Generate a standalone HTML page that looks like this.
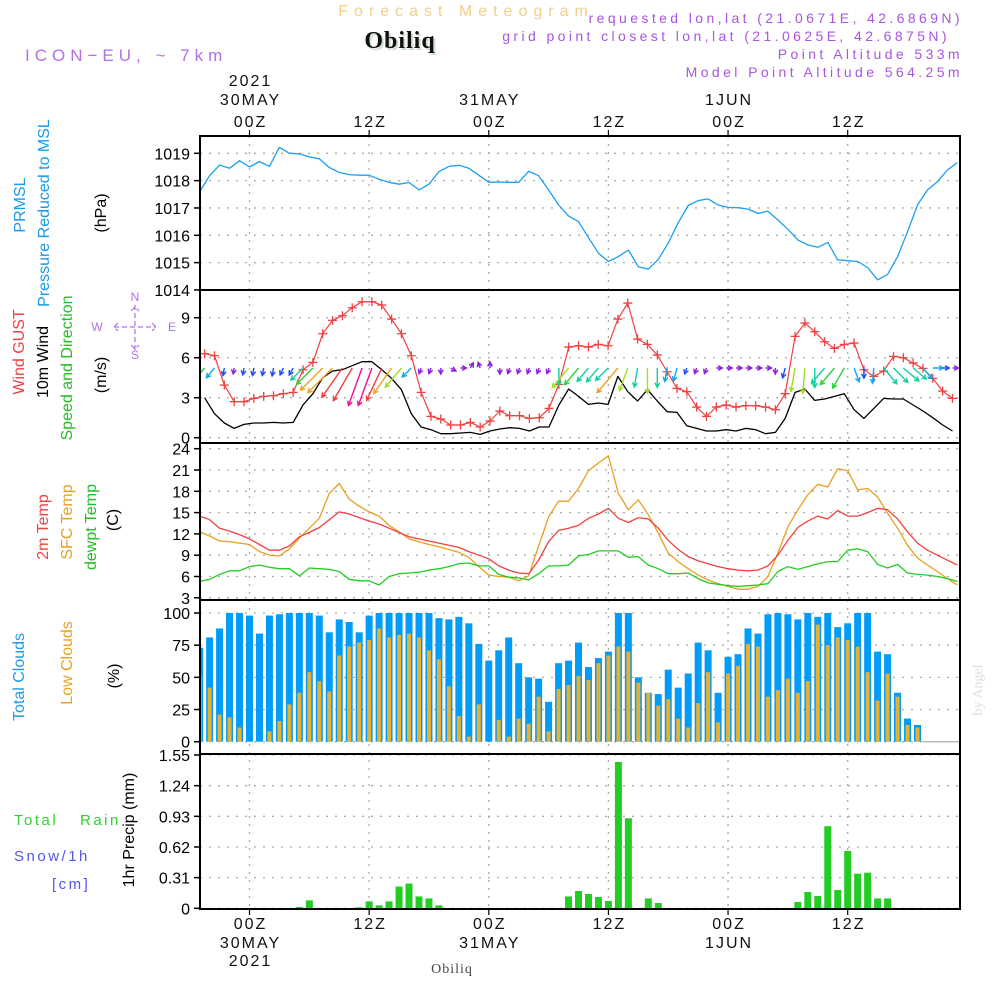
<!DOCTYPE html>
<html><head><meta charset="utf-8"><style>
html,body{margin:0;padding:0;background:#fff;}
svg{display:block;font-family:"Liberation Sans",sans-serif;}
</style></head><body>
<svg id="chart" width="1000" height="1000" viewBox="0 0 1000 1000" xmlns="http://www.w3.org/2000/svg">
<defs><clipPath id="plotclip"><rect x="200" y="130" width="760" height="790"/></clipPath></defs>
<g id="titles">
<text x="466" y="16" text-anchor="middle" font-size="16" fill="#f2cf8a" letter-spacing="6">Forecast Meteogram</text>
<text x="402" y="50" text-anchor="middle" font-size="24" font-weight="bold" font-family="Liberation Serif, serif" fill="#cfe0cf" letter-spacing="1">Obiliq</text>
<text x="400" y="48" text-anchor="middle" font-size="24" font-weight="bold" font-family="Liberation Serif, serif" fill="#111" letter-spacing="1">Obiliq</text>
<text x="25" y="61" font-size="17" fill="#b070e8" letter-spacing="5">ICON−EU, ~ 7km</text>
<text x="963" y="23" text-anchor="end" font-size="14" fill="#a855e0" letter-spacing="3.4">requested lon,lat (21.0671E, 42.6869N)</text>
<text x="950" y="41" text-anchor="end" font-size="14" fill="#a855e0" letter-spacing="3.4">grid point closest lon,lat (21.0625E, 42.6875N)</text>
<text x="963" y="59" text-anchor="end" font-size="14" fill="#a855e0" letter-spacing="3.4">Point Altitude 533m</text>
<text x="963" y="77" text-anchor="end" font-size="14" fill="#a855e0" letter-spacing="3.4">Model Point Altitude 564.25m</text>
<text x="452" y="973" text-anchor="middle" font-size="14" font-family="Liberation Serif, serif" fill="#444" letter-spacing="1">Obiliq</text>
<text transform="translate(982,690) rotate(-90)" text-anchor="middle" font-size="14" font-family="Liberation Serif, serif" fill="#ddd">by Angel</text>
</g>
<g id="ylabels" font-size="16">
<text transform="translate(25,205) rotate(-90)" text-anchor="middle" fill="#1a9ae8">PRMSL</text>
<text transform="translate(49,213) rotate(-90)" text-anchor="middle" fill="#1a9ae8">Pressure Reduced to MSL</text>
<text transform="translate(106,213) rotate(-90)" text-anchor="middle" fill="#000">(hPa)</text>
<text transform="translate(24,352) rotate(-90)" text-anchor="middle" fill="#f04040">Wind GUST</text>
<text transform="translate(48,362) rotate(-90)" text-anchor="middle" fill="#000">10m Wind</text>
<text transform="translate(72,368) rotate(-90)" text-anchor="middle" fill="#20c020">Speed and Direction</text>
<text transform="translate(106,375) rotate(-90)" text-anchor="middle" fill="#000">(m/s)</text>
<g fill="#b070e8" stroke="#b070e8" font-size="12">
<text x="135" y="301" text-anchor="middle" stroke="none">N</text>
<text x="135" y="359" text-anchor="middle" stroke="none">S</text>
<text x="97" y="331" text-anchor="middle" stroke="none">W</text>
<text x="172" y="331" text-anchor="middle" stroke="none">E</text>
<path d="M135 305V351M114 327H156M131 311L135 307L139 311M131 345L135 349L139 345M118 323L114 327L118 331M152 323L156 327L152 331" fill="none" stroke-width="1.2" stroke-dasharray="5 3"/>
</g>
<text transform="translate(48,527) rotate(-90)" text-anchor="middle" fill="#f04040">2m Temp</text>
<text transform="translate(72,522) rotate(-90)" text-anchor="middle" fill="#e8a020">SFC Temp</text>
<text transform="translate(96,527) rotate(-90)" text-anchor="middle" fill="#20c020">dewpt Temp</text>
<text transform="translate(118,520) rotate(-90)" text-anchor="middle" fill="#000">(C)</text>
<text transform="translate(24,677) rotate(-90)" text-anchor="middle" fill="#1a9ae8">Total Clouds</text>
<text transform="translate(72,663) rotate(-90)" text-anchor="middle" fill="#e8a020">Low Clouds</text>
<text transform="translate(119,676) rotate(-90)" text-anchor="middle" fill="#000">(%)</text>
<text x="14" y="825" font-size="15" fill="#30d030" letter-spacing="2.5">Total</text>
<text x="80" y="825" font-size="15" fill="#30d030" letter-spacing="2.5">Rain</text>
<text x="14" y="861" font-size="15" fill="#5555ee" letter-spacing="2.5">Snow/1h</text>
<text x="52" y="889" font-size="15" fill="#5555ee" letter-spacing="2.5">[cm]</text>
<text transform="translate(134,830) rotate(-90)" text-anchor="middle" fill="#000">1hr Precip (mm)</text>
</g>
<g id="grid"></g>
<g id="marks" clip-path="url(#plotclip)"></g>
<g id="axes"></g>
</svg>
<script>
// ---- data ----
const pressure = [1017.60,1018.18,1018.57,1018.45,1018.73,1018.50,1018.70,1018.52,1019.22,1019.0,1018.98,1018.87,1018.80,1018.48,1018.30,1018.22,1018.20,1018.20,1018.05,1017.94,1017.87,1017.93,1017.66,1017.87,1018.33,1018.52,1018.56,1018.45,1018.20,1017.94,1017.95,1017.94,1017.94,1018.34,1018.18,1017.66,1017.11,1016.71,1016.50,1015.91,1015.34,1015.04,1015.22,1015.46,1014.85,1014.76,1015.12,1015.71,1016.46,1017.09,1017.27,1017.33,1017.11,1017.02,1017.01,1016.96,1016.80,1016.88,1016.56,1016.22,1015.83,1015.65,1015.56,1015.74,1015.10,1015.07,1015.04,1014.82,1014.37,1014.57,1015.22,1016.13,1017.11,1017.66,1017.96,1018.39,1018.66];
const gust = [6.3,6.15,3.95,2.7,2.7,2.95,3.1,3.15,3.3,3.4,5.1,5.65,7.8,8.8,9.15,9.75,10.2,10.2,9.95,8.9,7.8,6.15,3.4,1.6,1.4,0.95,0.95,1.15,0.8,1.25,2.0,1.65,1.65,1.45,1.5,2.2,4.0,6.8,6.9,6.8,7.0,6.9,8.9,10.1,7.4,7.0,6.2,4.95,3.7,3.45,2.3,1.6,2.3,2.45,2.3,2.4,2.4,2.3,2.1,3.3,7.6,8.6,7.95,7.2,6.7,7.0,7.1,5.1,4.6,5.0,6.1,6.0,5.6,5.2,4.45,3.5,2.95];
const wind = [3.0,1.8,1.1,0.7,1.0,1.1,1.1,1.15,1.1,1.15,2.45,3.3,4.5,5.0,5.1,5.4,5.7,5.7,5.1,4.45,3.6,1.8,0.8,0.6,0.3,0.3,0.35,0.4,0.25,0.5,0.65,0.75,0.7,0.5,0.8,0.8,2.45,3.65,3.1,2.5,2.6,2.5,4.6,3.45,2.75,3.6,2.75,1.95,1.9,0.9,0.7,0.5,0.5,0.6,0.5,0.7,0.6,0.3,0.4,1.45,3.4,3.65,2.8,2.9,3.1,3.3,2.1,1.45,2.2,2.95,2.9,2.9,2.45,2.0,1.5,0.95,0.5];
const windDir = [40,40,10,10,10,10,10,10,25,30,45,45,45,45,35,30,20,20,25,35,40,45,20,20,0,-60,-90,-150,160,180,0,20,20,20,20,20,0,40,40,40,40,45,40,20,10,0,0,10,15,20,20,20,-90,-90,-90,-90,-90,-90,0,15,10,5,0,40,40,30,-20,0,5,-40,-45,-50,-50,-40,-90,-90,-90];
const temp2m = [14.5,14.0,12.8,12.4,11.9,11.3,10.5,9.7,9.7,10.3,11.6,12.2,12.9,14.0,15.1,14.8,14.3,13.8,13.4,12.8,12.2,11.6,11.3,11.0,10.7,10.4,10.1,9.5,9.0,8.5,7.5,6.9,6.5,6.4,8.3,10.9,12.5,12.8,13.2,14.2,14.8,15.6,14.2,13.6,14.3,14.1,12.8,11.1,9.8,8.8,8.2,7.8,7.4,7.1,6.9,6.8,6.9,7.5,9.0,11.1,12.9,13.8,14.5,14.1,15.3,14.5,14.5,15.0,15.6,15.4,14.1,12.3,10.7,9.7,9.0,8.3,7.6];
const tempSfc = [12.3,11.7,11.0,10.9,10.7,10.5,9.5,9.0,8.9,9.9,11.4,12.8,14.2,17.7,19.1,16.9,15.9,15.1,14.5,13.2,12.3,11.3,10.9,10.5,10.2,9.8,9.4,8.7,7.4,6.2,6.0,5.9,5.4,6.1,10.3,14.4,16.6,16.6,18.4,20.9,22.0,23.0,17.7,15.4,16.8,14.7,12.1,9.3,8.1,7.1,6.2,5.5,5.0,4.6,4.2,4.2,4.6,6.0,9.3,13.0,15.4,17.5,19.0,18.6,21.2,20.9,18.2,18.4,17.2,14.9,12.8,10.4,8.6,7.6,6.7,5.7,4.8];
const dewpt = [5.3,5.6,6.3,6.8,6.8,7.4,7.6,7.3,7.1,7.1,6.1,7.2,7.1,7.0,6.7,5.6,5.4,5.4,4.8,6.0,6.4,6.5,6.6,6.9,7.1,7.4,7.8,7.9,7.5,7.5,6.3,5.9,5.8,5.5,6.4,7.5,7.5,7.6,8.9,9.1,9.6,9.6,9.6,8.7,8.8,7.6,7.1,6.4,6.4,6.5,5.7,5.1,4.9,4.7,4.6,4.7,4.8,5.0,6.7,7.4,7.0,7.4,7.8,8.1,8.1,9.7,9.9,9.5,7.7,7.2,7.7,6.5,6.3,6.2,6.0,5.7,5.3];
const totalClouds = [73,81,88,100,100,98,84,98,99,100,100,100,98,85,95,93,85,98,100,100,100,100,100,100,96,95,97,92,76,63,71,81,61,50,49,31,61,63,77,58,65,70,100,100,50,38,37,56,42,53,77,71,38,66,68,88,84,99,100,99,95,100,97,100,89,92,100,100,70,68,38,18,13,0,0,0];
const lowClouds = [51,42,21,19,11,0,0,8,16,29,38,54,47,39,67,74,77,79,88,81,83,84,81,71,64,43,20,4,29,0,17,4,18,14,35,8,41,44,51,48,61,67,74,70,46,38,28,33,18,11,30,54,15,53,59,76,74,35,40,49,38,47,91,75,81,79,74,54,32,53,35,13,11,0,0,0];
const precipHours = [5,6,11,12,13,14,15,16,17,18,19,32,33,34,35,36,37,38,40,41,54,55,56,57,58,59,60,61,62,63,64];
const precipVals = [0.013,0.08,0.01,0.07,0.03,0.07,0.22,0.25,0.12,0.10,0.03,0.12,0.175,0.145,0.115,0.074,1.48,0.91,0.10,0.054,0.003,0.064,0.165,0.125,0.83,0.185,0.58,0.35,0.36,0.10,0.10];
const timeTicks = [0,12,24,36,48,60];
const topLabels = [["2021","30MAY","00Z"],["","","12Z"],["","31MAY","00Z"],["","","12Z"],["","1JUN","00Z"],["","","12Z"]];
const botLabels = [["00Z","30MAY","2021"],["12Z","",""],["00Z","31MAY",""],["12Z","",""],["00Z","1JUN",""],["12Z","",""]];
const pTicks = [1019,1018,1017,1016,1015,1014];
const wTicks = [9,6,3,0];
const tTicks = [24,21,18,15,12,9,6,3];
const cTicks = [100,75,50,25,0];
const rTicks = [1.55,1.24,0.93,0.62,0.31,0];

// ---- scales ----
const X0 = 200, X1 = 960;
const xh = h => 249.5 + h * 9.97;
const yP = v => 153.3 + (1019 - v) * 27.33;
const yW = v => 437.7 - v * 13.33;
const yT = v => 448.7 + (24 - v) * 7.1;
const yC = v => 741.7 - v * 1.287;
const yR = v => 908.3 - v * 98.9;
const panels = [[136,290],[290,443],[443,600],[600,754],[754,909]];
const NS = "http://www.w3.org/2000/svg";
function mk(tag, attrs, parent) {
  const e = document.createElementNS(NS, tag);
  for (const k in attrs) e.setAttribute(k, attrs[k]);
  parent.appendChild(e);
  return e;
}
const grid = document.getElementById('grid');
const marks = document.getElementById('marks');
const axes = document.getElementById('axes');

function hgrid(ticks, f, name) {
  ticks.forEach(t => {
    const l = mk('line', {x1: X0, x2: X1, y1: f(t), y2: f(t), stroke: '#aaa', 'stroke-width': 1.3, 'stroke-dasharray': '2 7'}, grid);
    
    
  });
}
hgrid(pTicks, yP, 'pressure'); hgrid(wTicks, yW, 'wind'); hgrid(tTicks, yT, 'temp'); hgrid(cTicks, yC, 'cloud'); hgrid(rTicks, yR, 'precip');
timeTicks.forEach(h => {
  const l = mk('line', {x1: xh(h), x2: xh(h), y1: 136, y2: 909, stroke: '#aaa', 'stroke-width': 1.3, 'stroke-dasharray': '2 6'}, grid);
  
  
});

totalClouds.forEach((v, i) => {
  const h = i - 5;
  const r = mk('rect', {x: xh(h) - 3.5, y: yC(v), width: 7, height: yC(0) - yC(v), fill: '#009cf8'}, marks);
  
  
});
lowClouds.forEach((v, i) => {
  const h = i - 5;
  const r = mk('rect', {x: xh(h) - 2, y: yC(v), width: 4, height: yC(0) - yC(v), fill: '#e8b030'}, marks);
  
  
});
const cz = mk('line', {x1: xh(67.5), x2: X1, y1: yC(0), y2: yC(0), stroke: '#bbb', 'stroke-width': 1.5}, marks);



precipHours.forEach((h, i) => {
  const v = precipVals[i];
  const r = mk('rect', {x: xh(h) - 3.5, y: yR(v), width: 7, height: yR(0) - yR(v), fill: '#22cc22'}, marks);
  
  
});

function poly(arr, f, hOf, color, w, name) {
  const pts = arr.map((v, i) => xh(hOf(i)).toFixed(1) + ',' + f(v).toFixed(1)).join(' ');
  const p = mk('polyline', {points: pts, fill: 'none', stroke: color, 'stroke-width': w, 'stroke-linejoin': 'round'}, marks);
  
  
}
const hourIdx = i => i - 5;
const windIdx = i => -4.5 + i * 0.987;
poly(pressure, yP, hourIdx, '#1aa0f0', 1.3, 'pressure-line');
poly(tempSfc, yT, hourIdx, '#e8a020', 1.3, 'sfc-temp-line');
poly(temp2m, yT, hourIdx, '#f04040', 1.3, 'temp2m-line');
poly(dewpt, yT, hourIdx, '#22cc22', 1.3, 'dewpt-line');
poly(wind, yW, windIdx, '#000', 1.3, 'wind-speed-line');
poly(gust, yW, windIdx, '#f04040', 1.2, 'gust-line');
gust.forEach((v, i) => {
  const x = xh(windIdx(i)), y = yW(v);
  const p = mk('path', {d: `M${x-4.5} ${y}H${x+4.5}M${x} ${y-4.5}V${y+4.5}`, stroke: '#f04040', 'stroke-width': 1.3}, marks);
  
  
});

function windColor(s) {
  if (s < 0.9) return '#8a20e0';
  if (s < 1.5) return '#2050f0';
  if (s < 2.4) return '#10a8f0';
  if (s < 3.0) return '#10d0a0';
  if (s < 3.4) return '#30d040';
  if (s < 4.0) return '#a0e020';
  if (s < 5.05) return '#f0a020';
  if (s < 5.5) return '#f04040';
  return '#f01090';
}
wind.forEach((s, i) => {
  const a = windDir[i] * Math.PI / 180;
  const L = Math.max(6, s * 7);
  const x0 = xh(windIdx(i)), y0 = 368;
  const dx = -Math.sin(a), dy = Math.cos(a);
  const x1 = x0 + dx * L, y1 = y0 + dy * L;
  const hl = 5, ha = 0.5;
  const bx = -dx, by = -dy;
  const h1x = x1 + hl * (bx * Math.cos(ha) - by * Math.sin(ha)), h1y = y1 + hl * (bx * Math.sin(ha) + by * Math.cos(ha));
  const h2x = x1 + hl * (bx * Math.cos(-ha) - by * Math.sin(-ha)), h2y = y1 + hl * (bx * Math.sin(-ha) + by * Math.cos(-ha));
  const p = mk('path', {d: `M${x0} ${y0}L${x1} ${y1}M${h1x} ${h1y}L${x1} ${y1}L${h2x} ${h2y}`, stroke: windColor(s), 'stroke-width': 1.4, fill: 'none'}, marks);
  
  
});

panels.forEach(([t, b]) => {
  const r = mk('rect', {x: X0, y: t, width: X1 - X0, height: b - t, fill: 'none', stroke: '#000', 'stroke-width': 2}, axes);
  
  
});

function yticks(ticks, f, name, fmt) {
  ticks.forEach(t => {
    const y = f(t);
    const tk = mk('line', {x1: 194, x2: 200, y1: y, y2: y, stroke: '#000', 'stroke-width': 1.5}, axes);
    
    
    const tx = mk('text', {x: 190, y: y + 6, 'text-anchor': 'end', 'font-size': 16, fill: '#000'}, axes);
    tx.textContent = fmt ? fmt(t) : String(t);
    
    
  });
}
yticks(pTicks, yP, 'pressure');
yticks(wTicks, yW, 'wind');
yticks(tTicks, yT, 'temp');
yticks(cTicks, yC, 'cloud');
yticks(rTicks, yR, 'precip', v => v === 0 ? '0' : v.toFixed(2));

timeTicks.forEach((h, i) => {
  const x = xh(h);
  const t1 = mk('line', {x1: x, x2: x, y1: 130, y2: 136, stroke: '#000', 'stroke-width': 1.2}, axes);
  
  
  const t2 = mk('line', {x1: x, x2: x, y1: 909, y2: 915, stroke: '#000', 'stroke-width': 1.2}, axes);
  
  
  [86, 105, 127].forEach((yy, j) => {
    const s = topLabels[i][j];
    if (!s) return;
    const tx = mk('text', {x: x + 1, y: yy, 'text-anchor': 'middle', 'font-size': 16, fill: '#111', 'letter-spacing': 2}, axes);
    tx.textContent = s;
    
    
  });
  [929, 948, 966].forEach((yy, j) => {
    const s = botLabels[i][j];
    if (!s) return;
    const tx = mk('text', {x: x + 1, y: yy, 'text-anchor': 'middle', 'font-size': 16, fill: '#111', 'letter-spacing': 2}, axes);
    tx.textContent = s;
    
    
  });
});
</script>
</body></html>
